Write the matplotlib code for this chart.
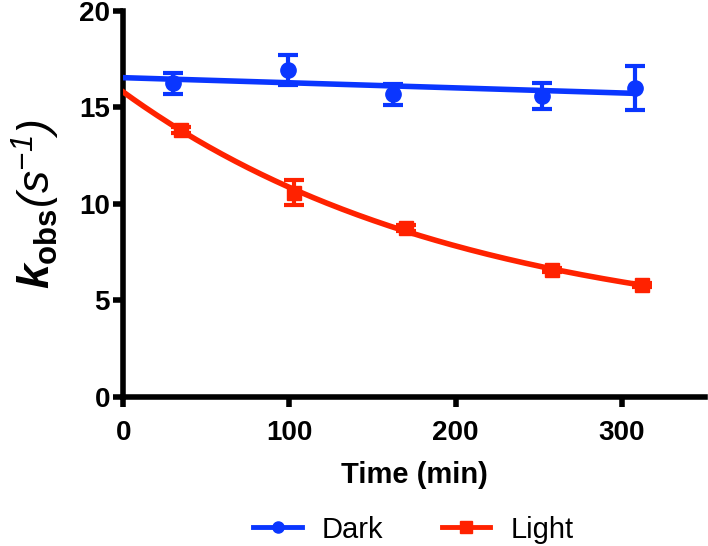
import numpy as np
import matplotlib
matplotlib.use("Agg")
import matplotlib.pyplot as plt

plt.rcParams['font.family'] = ['Liberation Sans', 'DejaVu Sans']
plt.rcParams['mathtext.fontset'] = 'custom'
plt.rcParams['mathtext.it'] = 'Liberation Sans:italic:bold'
plt.rcParams['mathtext.rm'] = 'Liberation Sans'
plt.rcParams['mathtext.bf'] = 'Liberation Sans:bold'
plt.rcParams['mathtext.sf'] = 'Liberation Sans:italic'

# data
dark_t = [30, 99, 162, 252, 308]
dark_k = [16.25, 16.94, 15.68, 15.60, 15.99]
dark_err = [0.55, 0.80, 0.55, 0.67, 1.14]

light_t = [35, 103, 170, 258, 312]
light_k = [13.83, 10.59, 8.74, 6.58, 5.80]
light_err = [0.15, 0.65, 0.15, 0.12, 0.12]

blue = '#0A36FF'
red = '#FF2200'

# fits: straight line for dark, one-phase decay for light
td = np.linspace(0, max(dark_t), 200)
slope, icpt = np.polyfit(dark_t, dark_k, 1)
dark_fit = icpt + slope * td

tl = np.linspace(0, max(light_t), 200)
lt = np.array(light_t, float)
lk = np.array(light_k, float)
best = None
for plat in np.linspace(0, 5.5, 111):
    b, a = np.polyfit(lt, np.log(lk - plat), 1)
    res = np.sum((plat + np.exp(a + b * lt) - lk) ** 2)
    if best is None or res < best[0]:
        best = (res, plat, a, b)
_, plat, a, b = best
light_fit = plat + np.exp(a + b * tl)

fig = plt.figure(figsize=(7.08, 5.46), dpi=100)
ax = fig.add_axes([0.174, 0.273, 0.822, 0.707])

ax.plot(td, dark_fit, color=blue, lw=4, zorder=3)
ax.plot(tl, light_fit, color=red, lw=4, zorder=3)
ax.errorbar(dark_t, dark_k, yerr=dark_err, fmt='o', color=blue, ms=11,
            capsize=7, elinewidth=3, capthick=3, zorder=4)
ax.errorbar(light_t, light_k, yerr=light_err, fmt='s', color=red, ms=10.5,
            capsize=7, elinewidth=3, capthick=3, zorder=4)

# legend handles
ax.plot([], [], '-o', color=blue, lw=3.5, ms=8, label='Dark')
ax.plot([], [], '-s', color=red, lw=3.5, ms=9, label='Light')
h, l = ax.get_legend_handles_labels()
fig.legend(h[-2:], l[-2:], loc='center', bbox_to_anchor=(0.584, 0.03), ncol=2,
           frameon=False, fontsize=21, handlelength=1.65, handletextpad=0.7,
           columnspacing=2.0)

ax.set_xlim(0, 350)
ax.set_ylim(0, 20)
ax.set_xticks([0, 100, 200, 300])
ax.set_yticks([0, 5, 10, 15, 20])
for s in ['top', 'right']:
    ax.spines[s].set_visible(False)
for s in ['left', 'bottom']:
    ax.spines[s].set_linewidth(4)
ax.tick_params(width=4, length=7.5, labelsize=20)
ax.tick_params(axis='x', pad=9)
ax.tick_params(axis='y', pad=2)
for lab in ax.get_xticklabels() + ax.get_yticklabels():
    lab.set_fontweight('bold')

ax.set_xlabel('Time (min)', fontsize=21, fontweight='bold', labelpad=11)
ax.set_ylabel(r'$k_{\mathbf{obs}}\mathsf{(s}^{\mathsf{-1}}\mathsf{)}$',
              fontsize=32, labelpad=12)

fig.savefig('out.png', dpi=100)
